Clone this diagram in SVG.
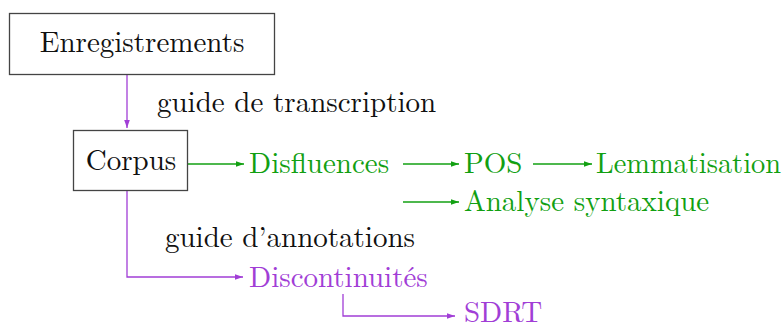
<svg xmlns="http://www.w3.org/2000/svg" width="784" height="325" viewBox="0 0 784 325" font-family="'Latin Modern Roman', 'Liberation Serif', serif" font-size="29">
<style>
text{font-family:"Latin Modern Roman","Liberation Serif",serif;font-size:29px}
.blk{fill:#111}
.g{fill:#12a012}
.p{fill:#a13ed6}
.box{fill:#fff;stroke:#444;stroke-width:1.3}
.lg{fill:none;stroke:#12a012;stroke-width:1.3}
.lp{fill:none;stroke:#a13ed6;stroke-width:1.3}
</style>
<defs>
<marker id="ag" viewBox="0 0 10 10" refX="10" refY="5" markerWidth="8" markerHeight="8" markerUnits="userSpaceOnUse" orient="auto"><path d="M0,1.5 L10,5 L0,8.5 Z" fill="#12a012"/></marker>
<marker id="ap" viewBox="0 0 10 10" refX="10" refY="5" markerWidth="8" markerHeight="8" markerUnits="userSpaceOnUse" orient="auto"><path d="M0,1.5 L10,5 L0,8.5 Z" fill="#a13ed6"/></marker>
</defs>
<g id="connectors">
<path class="lp" d="M127,74 V128" marker-end="url(#ap)"/>
<path class="lg" d="M188,164 H244" marker-end="url(#ag)"/>
<path class="lg" d="M403,164 H459" marker-end="url(#ag)"/>
<path class="lg" d="M533,164 H592" marker-end="url(#ag)"/>
<path class="lg" d="M403,202 H459" marker-end="url(#ag)"/>
<path class="lp" d="M127,191 V277 H243" marker-end="url(#ap)"/>
<path class="lp" d="M343,294 V316 H455" marker-end="url(#ap)"/>
</g>
<g id="enregistrements"><rect class="box" x="9.5" y="13.5" width="265" height="61"/><text class="blk" x="142" y="52" text-anchor="middle">Enregistrements</text></g>
<g id="corpus"><rect class="box" x="73.5" y="130.5" width="114" height="60"/><text class="blk" x="131" y="170" text-anchor="middle">Corpus</text></g>
<g id="label-transcription"><text class="blk" x="157" y="112">guide de transcription</text></g>
<g id="disfluences"><text class="g" x="249" y="173">Disfluences</text></g>
<g id="pos"><text class="g" x="464" y="173">POS</text></g>
<g id="lemmatisation"><text class="g" x="596" y="173" textLength="185" lengthAdjust="spacingAndGlyphs">Lemmatisation</text></g>
<g id="analyse"><text class="g" x="464" y="211">Analyse syntaxique</text></g>
<g id="label-annotations"><text class="blk" x="165" y="247">guide d’annotations</text></g>
<g id="discontinuites"><text class="p" x="249" y="287">Discontinuités</text></g>
<g id="sdrt"><text class="p" x="464" y="322">SDRT</text></g>
</svg>
